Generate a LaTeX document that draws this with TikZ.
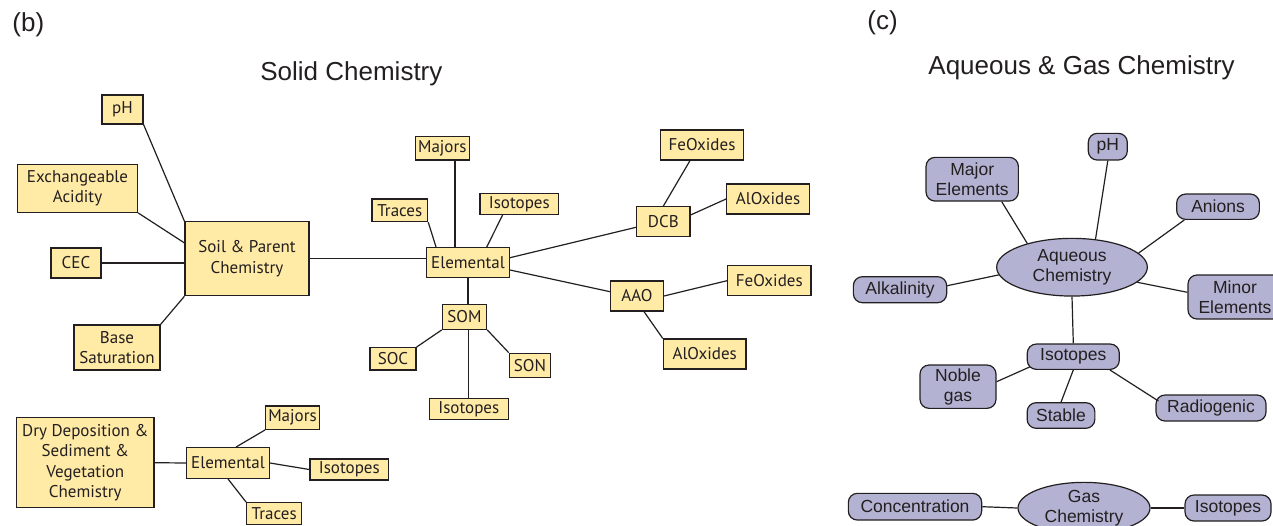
\documentclass[tikz,border=0pt]{standalone}
\usepackage{fontspec}
\setmainfont{Liberation Sans}
\newfontfamily\myriad{PT Sans}
\usepackage{tikz}
\usetikzlibrary{shapes.geometric, calc}
\usepackage{xcolor}
\definecolor{boxfill}{RGB}{255,234,166}
\definecolor{aqfill}{RGB}{180,178,210}
\definecolor{ink}{RGB}{35,31,32}

\tikzset{
  sbox/.style={draw=ink, fill=boxfill, line width=0.6pt, text=ink, inner sep=0pt, align=center, font=\myriad\fontsize{8.5}{10.3}\selectfont},
  abox/.style={draw=ink, fill=aqfill, rounded corners=4.5pt, line width=0.6pt, text=ink, inner sep=0pt, align=center, font=\fontsize{8.75}{10.2}\selectfont},
  aell/.style={abox, ellipse, sharp corners},
  sz/.style 2 args={minimum width=#1*0.5pt, minimum height=#2*0.5pt},
  link/.style={draw=ink, line width=0.6pt},
  ttl/.style={font=\fontsize{13}{15}\selectfont, text=ink, anchor=base west, inner sep=0pt},
}

\begin{document}
\begin{tikzpicture}[x=0.5pt, y=-0.5pt]
  \useasboundingbox (0,0) rectangle (1273,525);
  \clip (0,0) rectangle (1273,525);

  % Panel labels and titles
  \node[ttl] (lblb) at (12,31) {(b)};
  \node[ttl] (lblc) at (867,29.5) {(c)};
  \node[ttl] (tsolid) at (260,80) {Solid Chemistry};
  \node[ttl] (taq) at (928,74) {Aqueous \& Gas Chemistry};

  % Soil & parent chemistry
  \node[sbox, sz={41}{29}] (ph) at (122.5,109.5) {pH};
  \node[sbox, sz={120}{48}] (exacid) at (77.5,188.3) {Exchangeable\\Acidity};
  \node[sbox, sz={50}{30}] (cec) at (76,263) {CEC};
  \node[sbox, sz={86}{45}] (base) at (117,347.5) {Base\\Saturation};
  \node[sbox, sz={124}{74}] (soil) at (247,258.7) {Soil \& Parent\\Chemistry};

  % Elemental branch
  \node[sbox, sz={82.7}{30}] (elem) at (468,262.7) {Elemental};
  \node[sbox, sz={54}{23.3}] (maj) at (442.3,148.3) {Majors};
  \node[sbox, sz={55.7}{22.7}] (trc) at (399.8,210.3) {Traces};
  \node[sbox, sz={78.7}{21}] (isoa) at (519.3,203.8) {Isotopes};
  \node[sbox, sz={53.3}{30}] (dcb) at (663.3,221.7) {DCB};
  \node[sbox, sz={82.7}{30}] (fea) at (702,145) {FeOxides};
  \node[sbox, sz={82.7}{30}] (ala) at (768,199) {AlOxides};
  \node[sbox, sz={52.7}{30}] (aao) at (637,296) {AAO};
  \node[sbox, sz={83.3}{30}] (feb) at (769.3,280.7) {FeOxides};
  \node[sbox, sz={82.7}{30}] (alb) at (704.7,354) {AlOxides};

  % Organic matter
  \node[sbox, sz={44.3}{25}] (som) at (464.5,316.8) {SOM};
  \node[sbox, sz={46}{22.3}] (soc) at (393,358.8) {SOC};
  \node[sbox, sz={41.3}{24}] (son) at (530,365.3) {SON};
  \node[sbox, sz={79}{21}] (isob) at (468.8,408.8) {Isotopes};

  % Dry deposition
  \node[sbox, sz={137.3}{90}] (dry) at (85.3,462.7) {Dry Deposition \&\\Sediment \&\\Vegetation\\Chemistry};
  \node[sbox, sz={82.7}{30.7}] (elemb) at (228,463) {Elemental};
  \node[sbox, sz={53.7}{23.3}] (majb) at (292.5,417.7) {Majors};
  \node[sbox, sz={78.7}{21}] (isoc) at (349.3,469.5) {Isotopes};
  \node[sbox, sz={55}{22}] (trcb) at (274.2,513.7) {Traces};

  \draw[link] (ph.south east) -- (soil.north west);
  \draw[link] (exacid.south east) -- ($(soil.north west)!0.29!(soil.south west)$);
  \draw[link] (cec.east) -- (cec.east -| soil.west);
  \draw[link] (base.north east) -- (soil.south west);
  \draw[link] (soil.east) -- (soil.east -| elem.west);
  \draw[link] ($(maj.south)+(12.7,0)$) -- ($(maj.south |- elem.north)+(12.7,0)$);
  \draw[link] (trc.south east) -- ($(elem.north west)+(10,0)$);
  \draw[link] ($(isoa.south west)+(23.3,0)$) -- ($(elem.north)+(18.7,0)$);
  \draw[link] ($(elem.east)+(0,-5)$) -- ($(dcb.west)+(0,5.6)$);
  \draw[link] ($(elem.east)+(0,7.3)$) -- ($(aao.west)+(0,-4.3)$);
  \draw[link] (dcb.north) -- ($(fea.south)+(-12,0)$);
  \draw[link] ($(dcb.east)+(0,-6.7)$) -- (ala.west);
  \draw[link] (aao.east) -- (feb.west);
  \draw[link] ($(aao.south)+(7,0)$) -- (alb.north west);
  \draw[link] (elem.south) -- (elem.south |- som.north);
  \draw[link] (som.south west) -- (soc.north east);
  \draw[link] (som.south east) -- (son.north west);
  \draw[link] (isob.north |- som.south) -- (isob.north);
  \draw[link] (dry.east) -- (elemb.west);
  \draw[link] ($(elemb.north)+(8,0)$) -- (majb.south west);
  \draw[link] (elemb.east) -- (isoc.west);
  \draw[link] (elemb.south) -- (trcb.north west);

  % Aqueous chemistry
  \node[aell, sz={150.7}{57.7}] (aq) at (1072,267.2) {Aqueous\\Chemistry};
  \node[abox, sz={39}{26.7}] (pha) at (1107.8,146.7) {pH};
  \node[abox, sz={92.3}{43.7}] (majel) at (972.2,179.2) {Major\\Elements};
  \node[abox, sz={82.7}{25.3}] (anion) at (1218,206.7) {Anions};
  \node[abox, sz={93.3}{26}] (alk) at (900,289.7) {Alkalinity};
  \node[abox, sz={94}{44}] (minel) at (1235,297) {Minor\\Elements};
  \node[abox, sz={92}{25.3}] (isoq) at (1073.3,356.7) {Isotopes};
  \node[abox, sz={76}{43.3}] (noble) at (958,386.7) {Noble\\gas};
  \node[abox, sz={67.7}{25.6}] (stable) at (1061,415.5) {Stable};
  \node[abox, sz={110}{26}] (radio) at (1211,408) {Radiogenic};

  % Gas chemistry
  \node[aell, sz={132}{49.5}] (gas) at (1084,508) {Gas\\Chemistry};
  \node[abox, sz={133.3}{26.7}] (conc) at (915,506.7) {Concentration};
  \node[abox, sz={86}{26}] (isog) at (1228,508) {Isotopes};

  \draw[link] ($(majel.south)+(29.5,0)$) -- (aq.152);
  \draw[link] (pha.south) -- (aq.50);
  \draw[link] ($(anion.south west)+(8.3,0)$) -- (aq.12);
  \draw[link] ($(alk.east)+(0,-4)$) -- (aq.186);
  \draw[link] ($(minel.west)+(0,-4.7)$) -- (aq.347);
  \draw[link] (aq.south) -- (isoq.north);
  \draw[link] ($(isoq.south west)+(3,-3)$) -- ($(noble.east)+(0,-5)$);
  \draw[link] (isoq.south) -- (stable.north);
  \draw[link] ($(isoq.south east)+(-10,0)$) -- ($(radio.west)+(3,-7)$);
  \draw[link] (conc.east) -- (gas.west);
  \draw[link] (gas.east) -- (isog.west);
\end{tikzpicture}
\end{document}
